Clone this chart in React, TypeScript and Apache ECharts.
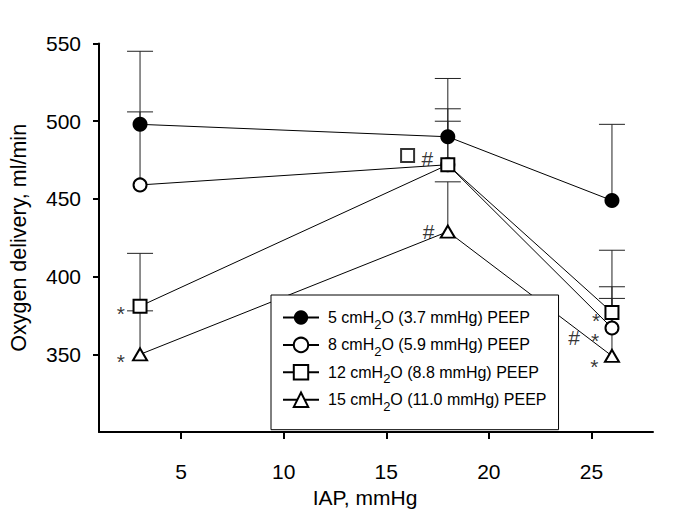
import React, { useEffect, useRef } from 'react';
import * as echarts from 'echarts';

// IAP levels (mmHg)
const iap = [3, 18, 26];
// Oxygen delivery means (ml/min)
const peep5 = [498, 490, 449];
const peep8 = [459, 472, 367];
const peep12 = [381, 472, 377];
const peep15 = [350, 429, 349];
// upper end of error bars
const peep5Top = [545, 527.5, 498];
const peep8Top = [506, 500, 393.5];
const peep12Top = [415, 508, 417];
const peep15Top = [378, 461, 386];

const seriesNames = [
  '5 cmH2O (3.7 mmHg) PEEP',
  '8 cmH2O (5.9 mmHg) PEEP',
  '12 cmH2O (8.8 mmHg) PEEP',
  '15 cmH2O (11.0 mmHg) PEEP',
];
const xTicks = [5, 10, 15, 20, 25];
const yTicks = [350, 400, 450, 500, 550];

// significance marks (data coordinates)
const markText = ['*', '*', '#', '#', '*', '#', '*', '*'];
const markX = [2.07, 2.07, 17.0, 17.06, 25.23, 24.16, 25.18, 25.14];
const markY = [376.5, 345.5, 476, 429, 371.5, 361, 359, 342];
// open-square key symbol next to "#"
const keySquareX = [16.04];
const keySquareY = [478];

const FONT = '"Liberation Sans", Arial, sans-serif';

export default function App() {
  const ref = useRef<HTMLDivElement>(null);
  useEffect(() => {
    if (!ref.current) return;
    const chart = echarts.init(ref.current, null, { renderer: 'svg' });

    const groups = [
      { v: peep5, t: peep5Top },
      { v: peep8, t: peep8Top },
      { v: peep12, t: peep12Top },
      { v: peep15, t: peep15Top },
    ];
    const errData: number[][] = [];
    groups.forEach((g) => iap.forEach((x, i) => errData.push([x, g.v[i], g.t[i]])));

    const lineBase = {
      type: 'line',
      z: 3,
      lineStyle: { color: '#000', width: 1 },
      emphasis: { disabled: true },
    };

    const option: any = {
      animation: false,
      textStyle: { fontFamily: FONT },
      grid: { left: 97, top: 43.5, right: 32, bottom: 70.7, containLabel: false },
      xAxis: {
        type: 'value',
        min: 1,
        max: 28,
        name: 'IAP, mmHg',
        nameLocation: 'middle',
        nameGap: 49,
        nameTextStyle: { fontSize: 21, color: '#000', fontFamily: FONT, padding: [0, 22, 0, 0] },
        axisLine: { show: true, onZero: false, lineStyle: { color: '#000', width: 2 } },
        axisTick: { show: true, customValues: xTicks, length: 7, lineStyle: { color: '#000', width: 2 } },
        axisLabel: { customValues: xTicks, fontSize: 21, color: '#000', margin: 29, fontFamily: FONT },
        splitLine: { show: false },
      },
      yAxis: {
        type: 'value',
        min: 300,
        max: 550,
        interval: 50,
        name: 'Oxygen delivery, ml/min',
        nameLocation: 'middle',
        nameGap: 69,
        nameTextStyle: { fontSize: 21.5, color: '#000', fontFamily: FONT },
        axisLine: { show: true, onZero: false, lineStyle: { color: '#000', width: 2 } },
        axisTick: { show: true, customValues: yTicks, length: 6, lineStyle: { color: '#000', width: 2 } },
        axisLabel: { customValues: yTicks, fontSize: 21, color: '#000', margin: 18, fontFamily: FONT },
        splitLine: { show: false },
      },
      legend: {
        data: seriesNames,
        orient: 'vertical',
        left: 271,
        top: 295,
        padding: [13.5, 12, 17, 11],
        itemWidth: 36,
        itemHeight: 18,
        itemGap: 5.4,
        backgroundColor: '#fff',
        borderColor: '#000',
        borderWidth: 1,
        borderRadius: 0,
        selectedMode: false,
        formatter: (name: string) => name.replace('H2O', 'H{sub|2}O'),
        textStyle: {
          fontSize: 16,
          lineHeight: 18,
          color: '#000',
          fontFamily: FONT,
          padding: [0, 0, 0, 4],
          rich: {
            sub: {
              fontSize: 13,
              fontFamily: FONT,
              color: '#000',
              height: 4,
              padding: [13, 0, 0, 0],
              verticalAlign: 'middle',
            },
          },
        },
      },
      series: [
        {
          type: 'custom',
          name: 'errors',
          z: 1,
          silent: true,
          data: errData,
          encode: { x: 0, y: [1, 2] },
          renderItem: (params: any, api: any) => {
            const x = api.value(0);
            const p0 = api.coord([x, api.value(1)]);
            const p1 = api.coord([x, api.value(2)]);
            const hw = 13;
            const st = { stroke: '#222', lineWidth: 1 };
            return {
              type: 'group',
              children: [
                { type: 'line', shape: { x1: p0[0], y1: p0[1], x2: p1[0], y2: p1[1] }, style: st },
                { type: 'line', shape: { x1: p1[0] - hw, y1: p1[1], x2: p1[0] + hw, y2: p1[1] }, style: st },
              ],
            };
          },
        },
        {
          ...lineBase,
          name: seriesNames[0],
          data: iap.map((x, i) => [x, peep5[i]]),
          symbol: 'circle',
          symbolSize: 15,
          itemStyle: { color: '#000', borderWidth: 0 },
        },
        {
          ...lineBase,
          name: seriesNames[1],
          data: iap.map((x, i) => [x, peep8[i]]),
          symbol: 'circle',
          symbolSize: 13,
          itemStyle: { color: '#fff', borderColor: '#000', borderWidth: 2 },
        },
        {
          ...lineBase,
          name: seriesNames[2],
          data: iap.map((x, i) => [x, peep12[i]]),
          symbol: 'rect',
          symbolSize: 13,
          itemStyle: { color: '#fff', borderColor: '#000', borderWidth: 2 },
        },
        {
          ...lineBase,
          name: seriesNames[3],
          data: iap.map((x, i) => [x, peep15[i]]),
          symbol: 'triangle',
          symbolSize: [14, 12],
          itemStyle: { color: '#fff', borderColor: '#000', borderWidth: 2 },
        },
        {
          type: 'scatter',
          name: 'key',
          z: 3,
          silent: true,
          data: keySquareX.map((x, i) => [x, keySquareY[i]]),
          symbol: 'rect',
          symbolSize: 13,
          itemStyle: { color: '#fff', borderColor: '#000', borderWidth: 2 },
        },
        {
          type: 'scatter',
          name: 'marks',
          z: 3,
          silent: true,
          data: markText.map((t, i) => ({ value: [markX[i], markY[i]], name: t })),
          symbolSize: 1,
          itemStyle: { color: 'rgba(0,0,0,0)' },
          label: {
            show: true,
            position: 'inside',
            formatter: (p: any) => p.name,
            fontSize: 21,
            color: '#000',
            fontFamily: FONT,
          },
        },
      ],
    };
    chart.setOption(option);
    return () => chart.dispose();
  }, []);
  return <div ref={ref} style={{ position: 'absolute', left: 0, top: 0, width: 685, height: 513 }} />;
}
